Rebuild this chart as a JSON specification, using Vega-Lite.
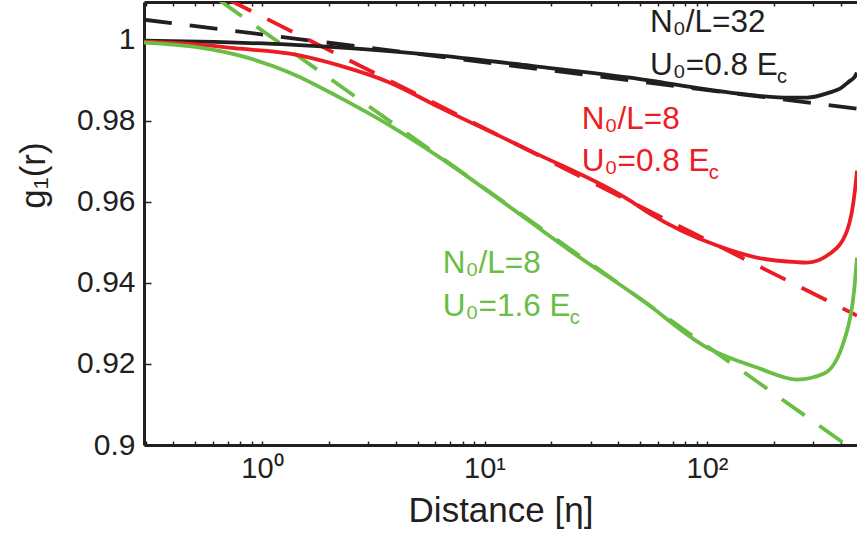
{
  "$schema": "https://vega.github.io/schema/vega-lite/v6.json",
  "width": 713,
  "height": 443,
  "autosize": {"type": "none"},
  "padding": {"left": 144, "top": 2, "right": 0, "bottom": 93},
  "background": "white",
  "config": {
    "view": {"stroke": null},
    "font": "Liberation Sans",
    "axis": {"grid": false}
  },
  "datasets": {
    "solid": [
      {"series": "A", "x": 0.295, "y": 0.99975},
      {"series": "A", "x": 0.526, "y": 0.99951},
      {"series": "A", "x": 1.336, "y": 0.99877},
      {"series": "A", "x": 6.31, "y": 0.99605},
      {"series": "A", "x": 16.0, "y": 0.99359},
      {"series": "A", "x": 45.1, "y": 0.99063},
      {"series": "A", "x": 126.9, "y": 0.98693},
      {"series": "A", "x": 167.8, "y": 0.98619},
      {"series": "A", "x": 236, "y": 0.98570},
      {"series": "A", "x": 281, "y": 0.98570},
      {"series": "A", "x": 357, "y": 0.98700},
      {"series": "A", "x": 396, "y": 0.98792},
      {"series": "A", "x": 440, "y": 0.98990},
      {"series": "A", "x": 458, "y": 0.99063},
      {"series": "A", "x": 472, "y": 0.99186},
      {"series": "B", "x": 0.295, "y": 0.99951},
      {"series": "B", "x": 0.526, "y": 0.99877},
      {"series": "B", "x": 0.796, "y": 0.99778},
      {"series": "B", "x": 1.336, "y": 0.99655},
      {"series": "B", "x": 2.24, "y": 0.99359},
      {"series": "B", "x": 3.76, "y": 0.98940},
      {"series": "B", "x": 6.31, "y": 0.98323},
      {"series": "B", "x": 16.0, "y": 0.97263},
      {"series": "B", "x": 45.1, "y": 0.96030},
      {"series": "B", "x": 55.4, "y": 0.95709},
      {"series": "B", "x": 110.9, "y": 0.94920},
      {"series": "B", "x": 167.8, "y": 0.94624},
      {"series": "B", "x": 254, "y": 0.94510},
      {"series": "B", "x": 281, "y": 0.94501},
      {"series": "B", "x": 357, "y": 0.94723},
      {"series": "B", "x": 426, "y": 0.95290},
      {"series": "B", "x": 462, "y": 0.96276},
      {"series": "B", "x": 472, "y": 0.96770},
      {"series": "C", "x": 0.295, "y": 0.99926},
      {"series": "C", "x": 0.526, "y": 0.99803},
      {"series": "C", "x": 0.796, "y": 0.99606},
      {"series": "C", "x": 1.336, "y": 0.99187},
      {"series": "C", "x": 2.24, "y": 0.98570},
      {"series": "C", "x": 3.76, "y": 0.97880},
      {"series": "C", "x": 6.31, "y": 0.97090},
      {"series": "C", "x": 11.7, "y": 0.96054},
      {"series": "C", "x": 24.2, "y": 0.94796},
      {"series": "C", "x": 50.0, "y": 0.93613},
      {"series": "C", "x": 100, "y": 0.92404},
      {"series": "C", "x": 167.8, "y": 0.91911},
      {"series": "C", "x": 254, "y": 0.91615},
      {"series": "C", "x": 336, "y": 0.91763},
      {"series": "C", "x": 413, "y": 0.92577},
      {"series": "C", "x": 458, "y": 0.93810},
      {"series": "C", "x": 472, "y": 0.94624}
    ],
    "dashed": [
      {"series": "A", "x": 0.295, "y": 1.00493},
      {"series": "A", "x": 472, "y": 0.98298},
      {"series": "B", "x": 0.295, "y": 1.02037},
      {"series": "B", "x": 472, "y": 0.93194},
      {"series": "C", "x": 0.295, "y": 1.02293},
      {"series": "C", "x": 472, "y": 0.89815}
    ],
    "labels": [
      {"series": "A", "x": 55.4, "y": 1.0018, "text": "N₀/L=32\nU₀=0.8 E", "sub": "c"},
      {"series": "B", "x": 27.35, "y": 0.97798, "text": "N₀/L=8\nU₀=0.8 E", "sub": "c"},
      {"series": "C", "x": 6.49, "y": 0.94237, "text": "N₀/L=8\nU₀=1.6 E", "sub": "c"}
    ]
  },
  "resolve": {"axis": {"x": "independent"}},
  "layer": [
    {
      "data": {"name": "dashed"},
      "mark": {"type": "line", "clip": true, "strokeWidth": 3.8, "strokeDash": [28, 18], "strokeCap": "butt"},
      "encoding": {
        "x": {"field": "x", "type": "quantitative",
          "scale": {"type": "log", "domain": [0.295, 472], "nice": false},
          "axis": {"orient": "top", "labels": false, "title": null,
            "values": [0.3,0.4,0.5,0.6,0.7,0.8,0.9,1,2,3,4,5,6,7,8,9,10,20,30,40,50,60,70,80,90,100,200,300,400],
            "tickSize": -4, "tickColor": "#231f20", "tickWidth": 1.5,
            "domainColor": "#231f20", "domainWidth": 3}},
        "y": {"field": "y", "type": "quantitative"},
        "color": {"field": "series", "type": "nominal", "legend": null,
          "scale": {"domain": ["A", "B", "C"], "range": ["#231f20", "#ed1c24", "#6abd45"]}},
        "detail": {"field": "series"}
      }
    },
    {
      "data": {"name": "solid"},
      "mark": {"type": "line", "clip": true, "strokeWidth": 3.8, "interpolate": "monotone", "strokeJoin": "round"},
      "encoding": {
        "x": {"field": "x", "type": "quantitative",
          "scale": {"type": "log", "domain": [0.295, 472], "nice": false},
          "axis": {"orient": "bottom", "title": "Distance [η]",
            "values": [0.3,0.4,0.5,0.6,0.7,0.8,0.9,1,2,3,4,5,6,7,8,9,10,20,30,40,50,60,70,80,90,100,200,300,400],
            "labelExpr": "datum.value == 1 ? '10⁰' : datum.value == 10 ? '10¹' : datum.value == 100 ? '10²' : ''",
            "labelFont": "Liberation Sans", "labelFontSize": 29, "labelColor": "#231f20",
            "labelPadding": 13, "labelOverlap": false, "labelFlush": false,
            "tickSize": -4, "tickColor": "#231f20", "tickWidth": 1.5,
            "domainColor": "#231f20", "domainWidth": 3,
            "titleFont": "Liberation Sans", "titleFontSize": 35, "titleFontWeight": "normal", "titleColor": "#231f20",
            "titleBaseline": "alphabetic", "titleY": 76}},
        "y": {"field": "y", "type": "quantitative",
          "scale": {"domain": [0.9, 1.0093], "nice": false, "zero": false},
          "axis": {"title": "g₁(r)", "values": [0.9, 0.92, 0.94, 0.96, 0.98, 1],
            "labelExpr": "datum.value == 1 ? '1' : format(datum.value, '.2~f')",
            "labelFont": "Liberation Sans", "labelFontSize": 30, "labelColor": "#231f20",
            "labelPadding": 16, "labelFlush": false,
            "tickSize": -7, "tickColor": "#231f20", "tickWidth": 1.5,
            "domainColor": "#231f20", "domainWidth": 3,
            "titleFont": "Liberation Sans", "titleFontSize": 35, "titleFontWeight": "normal", "titleColor": "#231f20",
            "titleAngle": -90, "titleBaseline": "alphabetic", "titleAlign": "center", "titleX": -100, "titleY": 173}},
        "color": {"field": "series", "type": "nominal", "legend": null},
        "detail": {"field": "series"}
      }
    },
    {
      "data": {"name": "labels"},
      "mark": {"type": "text", "align": "left", "baseline": "alphabetic", "fontSize": 31.5, "lineBreak": "\n", "lineHeight": 42.5, "font": "Liberation Sans"},
      "encoding": {
        "x": {"field": "x", "type": "quantitative", "axis": null},
        "y": {"field": "y", "type": "quantitative"},
        "text": {"field": "text"},
        "color": {"field": "series", "type": "nominal", "legend": null}
      }
    },
    {
      "data": {"name": "labels"},
      "mark": {"type": "text", "align": "left", "baseline": "alphabetic", "fontSize": 20, "dx": 127, "dy": 50.5, "font": "Liberation Sans"},
      "encoding": {
        "x": {"field": "x", "type": "quantitative", "axis": null},
        "y": {"field": "y", "type": "quantitative"},
        "text": {"field": "sub"},
        "color": {"field": "series", "type": "nominal", "legend": null}
      }
    }
  ]
}
